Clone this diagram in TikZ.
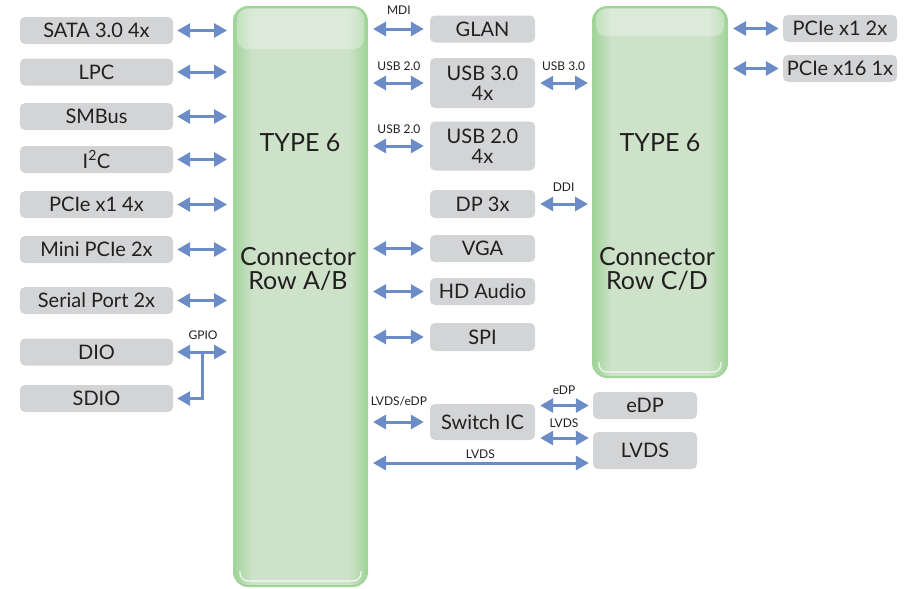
\documentclass[tikz,border=0pt]{standalone}
\usepackage{fontspec}
\setmainfont{Lato}
\usepackage{xcolor}
\usepackage{tikz}
\usetikzlibrary{arrows.meta, positioning, calc}

\definecolor{cinza}{RGB}{211,212,214}
\definecolor{texto}{RGB}{35,31,32}
\definecolor{azul}{RGB}{108,140,199}
\definecolor{verdeborda}{RGB}{160,212,152}
\definecolor{verdeclaro}{RGB}{206,226,202}

\pgfdeclarehorizontalshading{faixa}{100bp}{color(0bp)=(verdeborda); color(25bp)=(verdeborda); color(32bp)=(verdeclaro); color(68bp)=(verdeclaro); color(75bp)=(verdeborda); color(100bp)=(verdeborda)}

\begin{document}
\begin{tikzpicture}[x=1pt, y=-1pt,
        every node/.style={align=center, text=texto, inner sep=0pt, font=\fontsize{20}{20}\selectfont},
        bloco/.style={fill=cinza, rounded corners=5pt, minimum width=153pt, minimum height=27pt},
        meio/.style={bloco, minimum width=105pt},
        conector/.style={draw=verdeborda, line width=2pt, rounded corners=14pt, shading=faixa, minimum width=133pt},
        titulo/.style={font=\fontsize{25}{24}\selectfont},
        rotulo/.style={font=\fontsize{12}{12}\selectfont, above=11pt},
        seta/.style={{Triangle[length=13pt,width=14pt]}-{Triangle[length=13pt,width=14pt]}, line width=3pt, draw=azul},
        esq/.style={seta, shorten <=4pt, shorten >=6pt},
        dir/.style={seta, shorten <=5pt, shorten >=6pt}
    ]
        \useasboundingbox (0,0) rectangle (919,589);

        % blocos verdes
        \node[conector, minimum height=579pt] (ab) at (300.5,296.5) {};
        \node[conector, minimum width=134pt, minimum height=370pt] (cd) at (660,192) {};
        \fill[white, opacity=.3, rounded corners=10pt] ($(ab.north west)+(4,3)$) rectangle ($(ab.north east)+(-4,43)$);
        \fill[white, opacity=.3, rounded corners=10pt] ($(cd.north west)+(4,3)$) rectangle ($(cd.north east)+(-4,30)$);
        \draw[white, opacity=.8, line width=1.2pt, rounded corners=8pt] ($(ab.south west)+(7,-16)$) -- ($(ab.south west)+(7,-6)$) -- ($(ab.south east)+(-7,-6)$) -- ($(ab.south east)+(-7,-16)$);
        \draw[white, opacity=.8, line width=1.2pt, rounded corners=8pt] ($(cd.south west)+(7,-16)$) -- ($(cd.south west)+(7,-6)$) -- ($(cd.south east)+(-7,-6)$) -- ($(cd.south east)+(-7,-16)$);
        \node[titulo] (abtipo) at (300,143) {TYPE 6};
        \node[titulo] (abnome) at (298,269) {Connector\\Row A/B};
        \node[titulo] (cdtipo) at (660,143) {TYPE 6};
        \node[titulo] (cdnome) at (657,269) {Connector\\Row C/D};

        % coluna da esquerda
        \node[bloco] (sata) at (96.5,30.5) {SATA 3.0 4x};
        \node[bloco] (lpc) at (96.5,72) {LPC};
        \node[bloco] (smbus) at (96.5,116.5) {SMBus};
        \node[bloco] (iic) at (96.5,159.5) {I\textsuperscript{2}C};
        \node[bloco] (pcie) at (96.5,204.5) {PCIe x1 4x};
        \node[bloco] (mini) at (96.5,249.5) {Mini PCIe 2x};
        \node[bloco] (serial) at (96.5,300.5) {Serial Port 2x};
        \node[bloco] (dio) at (96.5,352) {DIO};
        \node[bloco] (sdio) at (96.5,398.5) {SDIO};

        \draw[esq] (sata.east) -- (sata.east -| ab.west);
        \draw[esq] (lpc.east) -- (lpc.east -| ab.west);
        \draw[esq] (smbus.east) -- (smbus.east -| ab.west);
        \draw[esq] (iic.east) -- (iic.east -| ab.west);
        \draw[esq] (pcie.east) -- (pcie.east -| ab.west);
        \draw[esq] (mini.east) -- (mini.east -| ab.west);
        \draw[esq] (serial.east) -- (serial.east -| ab.west);
        \draw[esq] (dio.east) -- node[rotulo] (gpio) {GPIO} (dio.east -| ab.west);
        \coordinate (ramo) at (202,352);
        \draw[seta, {Triangle[length=13pt,width=14pt]}-, shorten <=4pt] (sdio.east) -| (ramo);

        % coluna do meio
        \node[meio] (glan) at (482.5,29) {GLAN};
        \node[meio, minimum height=50pt] (usbtres) at (482.5,83) {USB 3.0\\4x};
        \node[meio, minimum height=49pt] (usbdois) at (482.5,146) {USB 2.0\\4x};
        \node[meio, minimum height=28pt] (dp) at (482.5,204) {DP 3x};
        \node[meio] (vga) at (482.5,248.5) {VGA};
        \node[meio] (hda) at (482.5,291.5) {HD Audio};
        \node[meio, minimum height=28pt] (spi) at (482.5,337) {SPI};
        \node[meio, minimum height=36pt] (switch) at (482.5,422) {Switch IC};

        \draw[dir] (glan.west -| ab.east) -- node[rotulo, above=13pt] {MDI} (glan.west);
        \draw[dir] (usbtres.west -| ab.east) -- node[rotulo] {USB 2.0} (usbtres.west);
        \draw[dir] (usbdois.west -| ab.east) -- node[rotulo] {USB 2.0} (usbdois.west);
        \draw[dir] (vga.west -| ab.east) -- (vga.west);
        \draw[dir] (hda.west -| ab.east) -- (hda.west);
        \draw[dir] (spi.west -| ab.east) -- (spi.west);
        \draw[dir] (switch.west -| ab.east) -- node[rotulo, above=14pt] {LVDS/eDP} (switch.west);

        \draw[seta, shorten <=5pt, shorten >=4pt] (usbtres.east) -- node[rotulo] {USB 3.0} (usbtres.east -| cd.west);
        \draw[seta, shorten <=5pt, shorten >=4pt] (dp.east) -- node[rotulo] {DDI} (dp.east -| cd.west);

        % saidas de video
        \node[meio, minimum width=104pt] (edp) at (645,405.5) {eDP};
        \node[meio, minimum width=104pt, minimum height=37pt] (lvds) at (645,450.5) {LVDS};
        \draw[seta, shorten <=5pt, shorten >=4pt] (edp.west -| switch.east) -- node[rotulo, above=9pt] {eDP} (edp.west);
        \draw[seta, shorten <=5pt, shorten >=4pt] ([yshift=12.5pt]lvds.west -| switch.east) -- node[rotulo, above=9pt] {LVDS} ([yshift=12.5pt]lvds.west);
        \draw[seta, shorten <=5pt, shorten >=4pt] ([yshift=-12.5pt]lvds.west -| ab.east) -- node[rotulo, above=3pt] {LVDS} ([yshift=-12.5pt]lvds.west);

        % coluna da direita
        \node[bloco, minimum width=114pt] (pcieum) at (840,28.5) {PCIe x1 2x};
        \node[bloco, minimum width=114pt] (pciedez) at (840,68.5) {PCIe x16 1x};
        \draw[seta, shorten <=5pt, shorten >=4pt] (pcieum.west -| cd.east) -- (pcieum.west);
        \draw[seta, shorten <=5pt, shorten >=4pt] (pciedez.west -| cd.east) -- (pciedez.west);
    \end{tikzpicture}
\end{document}
